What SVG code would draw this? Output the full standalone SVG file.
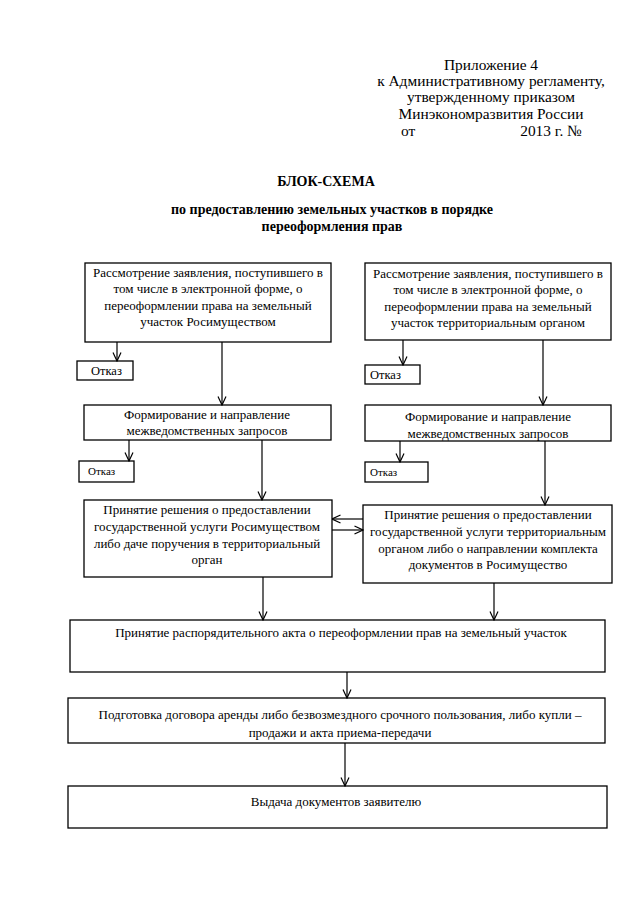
<svg xmlns="http://www.w3.org/2000/svg" width="640" height="905" viewBox="0 0 640 905">
<style>
text{font-family:"Liberation Serif","Times New Roman",serif;fill:#000}
.h{font-size:15.4px;text-anchor:middle}
.t{font-size:14px;font-weight:bold;text-anchor:middle}
.b{font-size:13px;text-anchor:middle}
.o{font-size:12.5px}
.os{font-size:11px}
rect{fill:#fff;stroke:#000;stroke-width:1.3}
.c line{stroke:#000;stroke-width:1.2;fill:none}
</style>
<defs>
<marker id="h" viewBox="0 0 12 10" refX="11.5" refY="5" markerWidth="12" markerHeight="10" markerUnits="userSpaceOnUse" orient="auto">
<polyline points="3,1 11.5,5 3,9" fill="none" stroke="#000" stroke-width="1.2"/>
</marker>
</defs>
<rect x="0" y="0" width="640" height="905" style="fill:#fff;stroke:none"/>
<g id="header">
<text class="h" x="491" y="70">Приложение 4</text>
<text class="h" x="491" y="86">к Административному регламенту,</text>
<text class="h" x="491" y="102">утвержденному приказом</text>
<text class="h" x="491" y="119">Минэкономразвития России</text>
<text class="h" x="408" y="136">от</text>
<text class="h" x="551" y="136">2013 г. №</text>
</g>
<g id="title">
<text class="t" x="326" y="186">БЛОК-СХЕМА</text>
<text class="t" x="332" y="214">по предоставлению земельных участков в порядке</text>
<text class="t" x="332" y="231">переоформления прав</text>
</g>
<g id="n1">
<rect x="85" y="263" width="246" height="79"/>
<text class="b" x="208" y="277">Рассмотрение заявления, поступившего в</text>
<text class="b" x="208" y="293">том числе в электронной форме, о</text>
<text class="b" x="208" y="310">переоформлении права на земельный</text>
<text class="b" x="208" y="326">участок Росимуществом</text>
</g>
<g id="n2">
<rect x="365" y="263" width="246" height="77"/>
<text class="b" x="488" y="278">Рассмотрение заявления, поступившего в</text>
<text class="b" x="488" y="294">том числе в электронной форме, о</text>
<text class="b" x="488" y="311">переоформлении права на земельный</text>
<text class="b" x="488" y="327">участок территориальным органом</text>
</g>
<g id="n3">
<rect x="77" y="361" width="56" height="19"/>
<text class="o" x="91" y="375">Отказ</text>
</g>
<g id="n4">
<rect x="365" y="365" width="55" height="19"/>
<text class="o" x="370" y="379">Отказ</text>
</g>
<g id="n5">
<rect x="84" y="405" width="247" height="35"/>
<text class="b" x="207" y="419">Формирование и направление</text>
<text class="b" x="207" y="435">межведомственных запросов</text>
</g>
<g id="n6">
<rect x="365" y="405" width="246" height="36"/>
<text class="b" x="488" y="421">Формирование и направление</text>
<text class="b" x="488" y="438">межведомственных запросов</text>
</g>
<g id="n7">
<rect x="79" y="461" width="55" height="21"/>
<text class="os" x="88" y="475">Отказ</text>
</g>
<g id="n8">
<rect x="365" y="462" width="63" height="20"/>
<text class="os" x="370" y="476">Отказ</text>
</g>
<g id="n9">
<rect x="84" y="500" width="248" height="77"/>
<text class="b" x="207" y="514">Принятие решения о предоставлении</text>
<text class="b" x="207" y="531">государственной услуги Росимуществом</text>
<text class="b" x="207" y="548">либо даче поручения в территориальный</text>
<text class="b" x="207" y="564">орган</text>
</g>
<g id="n10">
<rect x="363" y="505" width="249" height="78"/>
<text class="b" x="488" y="519">Принятие решения о предоставлении</text>
<text class="b" x="488" y="536">государственной услуги территориальным</text>
<text class="b" x="488" y="553">органом либо о направлении комплекта</text>
<text class="b" x="488" y="569">документов в Росимущество</text>
</g>
<g id="n11">
<rect x="70" y="620" width="535" height="52"/>
<text class="b" x="341" y="637">Принятие распорядительного акта о переоформлении прав на земельный участок</text>
</g>
<g id="n12">
<rect x="68" y="698" width="537" height="45"/>
<text class="b" x="340" y="719">Подготовка договора аренды либо безвозмездного срочного пользования, либо купли –</text>
<text class="b" x="340" y="737">продажи и акта приема-передачи</text>
</g>
<g id="n13">
<rect x="68" y="786" width="539" height="42"/>
<text class="b" x="336" y="806">Выдача документов заявителю</text>
</g>
<g class="c" id="connectors">
<line x1="117" y1="342" x2="117" y2="361" marker-end="url(#h)"/>
<line x1="222" y1="342" x2="222" y2="405" marker-end="url(#h)"/>
<line x1="129" y1="440" x2="129" y2="461" marker-end="url(#h)"/>
<line x1="262" y1="440" x2="262" y2="500" marker-end="url(#h)"/>
<line x1="403" y1="340" x2="403" y2="365" marker-end="url(#h)"/>
<line x1="543" y1="340" x2="543" y2="405" marker-end="url(#h)"/>
<line x1="400" y1="441" x2="400" y2="462" marker-end="url(#h)"/>
<line x1="545" y1="441" x2="545" y2="505" marker-end="url(#h)"/>
<line x1="363" y1="519" x2="332" y2="519" marker-end="url(#h)"/>
<line x1="332" y1="530" x2="363" y2="530" marker-end="url(#h)"/>
<line x1="263" y1="577" x2="263" y2="620" marker-end="url(#h)"/>
<line x1="494" y1="583" x2="494" y2="620" marker-end="url(#h)"/>
<line x1="347" y1="672" x2="347" y2="698" marker-end="url(#h)"/>
<line x1="345" y1="743" x2="345" y2="786" marker-end="url(#h)"/>
</g>
</svg>
